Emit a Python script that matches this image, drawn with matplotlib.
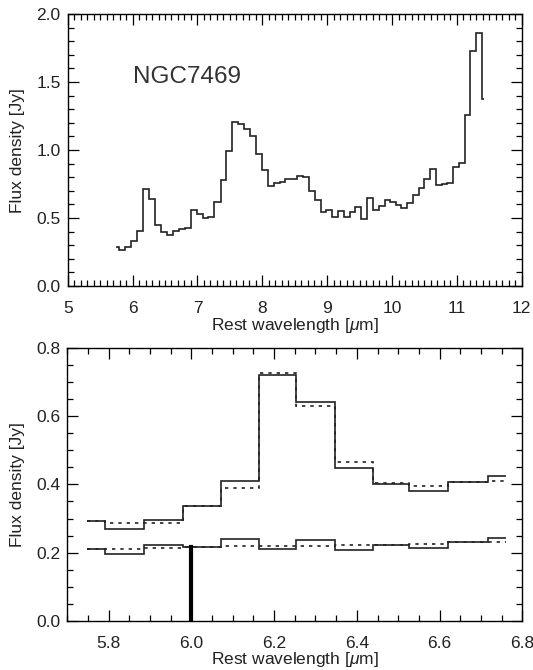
import matplotlib
matplotlib.use('Agg')
import matplotlib.pyplot as plt
from matplotlib.ticker import MultipleLocator

plt.rcParams['font.family'] = ['Liberation Sans', 'DejaVu Sans']
plt.rcParams['mathtext.fontset'] = 'custom'
plt.rcParams['mathtext.it'] = 'Liberation Sans:italic'

#full spectrum of NGC7469, bin edges and fluxes
WL_EDGES = [
    5.743, 5.79, 5.886, 5.974, 6.071, 6.164, 6.256, 6.348, 6.44, 6.53, 6.625,
    6.717, 6.81, 6.908, 6.994, 7.08, 7.17, 7.26, 7.36, 7.446, 7.538, 7.625,
    7.717, 7.81, 7.90, 7.994, 8.086, 8.18, 8.266, 8.354, 8.44, 8.53, 8.625,
    8.717, 8.81, 8.90, 8.985, 9.077, 9.17, 9.255, 9.35, 9.435, 9.52, 9.615,
    9.70, 9.794, 9.886, 9.974, 10.06, 10.143, 10.23, 10.32, 10.415, 10.50,
    10.59, 10.677, 10.77, 10.85, 10.94, 11.025, 11.117, 11.20, 11.297, 11.385,
    11.42
]
FLUX = [
    0.287, 0.262, 0.287, 0.329, 0.402, 0.713, 0.640, 0.446, 0.397, 0.377,
    0.402, 0.417, 0.426, 0.559, 0.527, 0.502, 0.505, 0.620, 0.779, 0.993,
    1.208, 1.191, 1.152, 1.105, 0.971, 0.851, 0.735, 0.757, 0.762, 0.789,
    0.787, 0.806, 0.801, 0.699, 0.630, 0.544, 0.561, 0.510, 0.549, 0.510,
    0.542, 0.581, 0.493, 0.649, 0.559, 0.588, 0.630, 0.615, 0.598, 0.571,
    0.608, 0.669, 0.721, 0.784, 0.863, 0.740, 0.752, 0.760, 0.875, 0.907,
    1.260, 1.726, 1.863, 1.375
]

#zoom on the 6.2 micron feature
ZOOM_EDGES = [
    5.748, 5.791, 5.885, 5.979, 6.072, 6.164, 6.253, 6.347, 6.440, 6.527,
    6.621, 6.716, 6.761
]
UPPER_SOLID = [0.293, 0.269, 0.295, 0.336, 0.410, 0.719, 0.642, 0.449, 0.400,
               0.380, 0.407, 0.424]
UPPER_DOTTED = [0.293, 0.286, 0.286, 0.336, 0.389, 0.727, 0.629, 0.466, 0.404,
                0.395, 0.407, 0.411]
LOWER_SOLID = [0.2105, 0.196, 0.224, 0.217, 0.240, 0.211, 0.237, 0.207, 0.222,
               0.2125, 0.230, 0.2435]
LOWER_DOTTED = [0.211, 0.212, 0.215, 0.217, 0.219, 0.221, 0.221, 0.223, 0.224,
                0.227, 0.230, 0.232]
MARK_WL = 6.0
MARK_TOP = 0.217

XLABEL = r'Rest wavelength [$\mu$m]'
YLABEL = 'Flux density [Jy]'
LINE_COLOR = '#222222'


#IDL-like ticks: inside, on all four sides
def config_ticks(ax, xmaj, xmin, ymaj, ymin):
    ax.xaxis.set_major_locator(MultipleLocator(xmaj))
    ax.xaxis.set_minor_locator(MultipleLocator(xmin))
    ax.yaxis.set_major_locator(MultipleLocator(ymaj))
    ax.yaxis.set_minor_locator(MultipleLocator(ymin))
    ax.tick_params(which='both', direction='in', top=True, right=True,
                   labelsize=12.5, width=0.9, labelcolor='#222222')
    ax.tick_params(which='major', length=8)
    ax.tick_params(which='minor', length=4.5)
    ax.tick_params(axis='x', pad=11)
    ax.tick_params(axis='y', pad=5)
    for s in ax.spines.values():
        s.set_linewidth(1.0)


fig = plt.figure(figsize=(5.33, 6.70), dpi=100)

#top panel - whole spectrum
ax1 = fig.add_axes([0.127, 0.573, 0.852, 0.406])
ax1.stairs(FLUX, WL_EDGES, baseline=None, color=LINE_COLOR, linewidth=1.2)
ax1.set_xlim(5, 12)
ax1.set_ylim(0, 2)
config_ticks(ax1, 1, 0.1, 0.5, 0.1)
ax1.yaxis.set_major_formatter(plt.FormatStrFormatter('%.1f'))
ax1.set_xlabel(XLABEL, fontsize=12.5, labelpad=0, color='#222222')
ax1.set_ylabel(YLABEL, fontsize=12.5, labelpad=8, color='#222222')
ax1.text(6.0, 1.49, 'NGC7469', fontsize=17.5, color='#333333',
         va='baseline')

#bottom panel - zoom
ax2 = fig.add_axes([0.126, 0.073, 0.854, 0.408])
ax2.stairs(UPPER_SOLID, ZOOM_EDGES, baseline=None, color=LINE_COLOR,
           linewidth=1.2)
ax2.stairs(UPPER_DOTTED, ZOOM_EDGES, baseline=None, color=LINE_COLOR,
           linewidth=1.2, linestyle=(0, (2, 3)))
ax2.stairs(LOWER_SOLID, ZOOM_EDGES, baseline=None, color=LINE_COLOR,
           linewidth=1.2)
ax2.stairs(LOWER_DOTTED, ZOOM_EDGES, baseline=None, color=LINE_COLOR,
           linewidth=1.2, linestyle=(0, (2, 3)))
ax2.plot([MARK_WL, MARK_WL], [0, MARK_TOP], color='black', linewidth=3)
ax2.set_xlim(5.7, 6.8)
ax2.set_ylim(0, 0.8)
config_ticks(ax2, 0.2, 0.05, 0.2, 0.05)
ax2.xaxis.set_major_formatter(plt.FormatStrFormatter('%.1f'))
ax2.yaxis.set_major_formatter(plt.FormatStrFormatter('%.1f'))
ax2.set_xlabel(XLABEL, fontsize=12.5, labelpad=-1, color='#222222')
ax2.set_ylabel(YLABEL, fontsize=12.5, labelpad=8, color='#222222')

fig.savefig('out.png', dpi=100)
